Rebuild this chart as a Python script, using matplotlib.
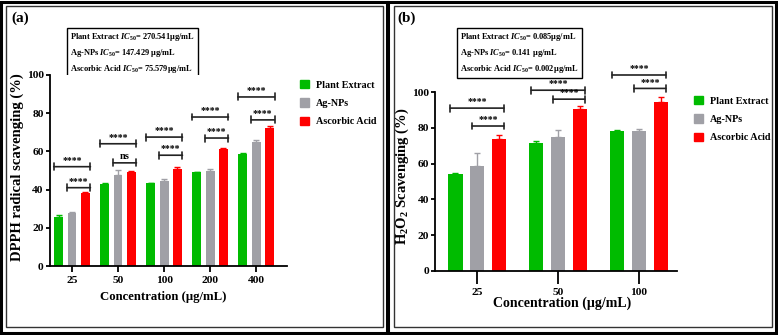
import matplotlib
matplotlib.use('Agg')
import matplotlib.pyplot as plt
from matplotlib.patches import Rectangle, Patch
import numpy as np

plt.rcParams['font.family'] = ['Liberation Serif', 'DejaVu Serif']
plt.rcParams['font.weight'] = 'bold'
plt.rcParams['mathtext.fontset'] = 'custom'
plt.rcParams['mathtext.rm'] = 'Liberation Serif:bold'
plt.rcParams['mathtext.it'] = 'Liberation Serif:bold:italic'
plt.rcParams['mathtext.bf'] = 'Liberation Serif:bold'

# ---- data ----
SERIES = ['Plant Extract', 'Ag-NPs', 'Ascorbic Acid']
COLORS = ['#00bb00', '#a0a0a6', '#ff0000']

conc_a = ['25', '50', '100', '200', '400']
dpph_plant = [25.8, 43.0, 43.2, 49.0, 58.5]
dpph_agnp = [27.6, 47.5, 44.5, 50.0, 65.0]
dpph_asc = [38.2, 49.0, 51.0, 61.0, 72.3]
dpph_plant_err = [0.8, 0.4, 0.5, 0.4, 0.8]
dpph_agnp_err = [0.7, 3.0, 1.0, 0.7, 1.2]
dpph_asc_err = [0.5, 0.6, 0.6, 0.8, 0.8]
# significance: plant vs ascorbic (big), agnp vs ascorbic (small)
dpph_sig_big = [52, 64, 67.5, 78, 88.5]
dpph_sig_small = [41, 54, 58, 67, 76.5]
dpph_lab_big = ['****'] * 5
dpph_lab_small = ['****', 'ns', '****', '****', '****']

conc_b = ['25', '50', '100']
h2o2_plant = [54.0, 71.5, 78.0]
h2o2_agnp = [58.5, 75.0, 78.0]
h2o2_asc = [74.0, 90.5, 94.5]
h2o2_plant_err = [1.0, 1.0, 1.0]
h2o2_agnp_err = [7.5, 3.5, 1.5]
h2o2_asc_err = [2.0, 1.5, 2.5]
h2o2_sig_big = [91, 101, 109.5]
h2o2_sig_small = [81, 96, 102]
h2o2_lab_big = ['****'] * 3
h2o2_lab_small = ['****'] * 3

ic50_a = ['Plant Extract $IC_{50}$= 270.541µg/mL',
          'Ag-NPs $IC_{50}$= 147.429 µg/mL',
          'Ascorbic Acid $IC_{50}$= 75.579µg/mL']
ic50_b = ['Plant Extract $IC_{50}$= 0.085µg/mL',
          'Ag-NPs $IC_{50}$= 0.141 µg/mL',
          'Ascorbic Acid $IC_{50}$= 0.002µg/mL']

W, H = 778, 335
fig = plt.figure(figsize=(W / 100, H / 100), dpi=100)

# overlay axes in pixel coordinates for frames and boxes
ov = fig.add_axes([0, 0, 1, 1], zorder=-1)
ov.set_xlim(0, W)
ov.set_ylim(H, 0)
ov.axis('off')
for x0, x1 in [(1.5, 387), (388.5, 776.5)]:
    ov.add_patch(Rectangle((x0, 1.5), x1 - x0, 331.5, fill=False, lw=2.2, ec='black'))
for x0, x1 in [(6, 383), (394, 772)]:
    ov.add_patch(Rectangle((x0, 6), x1 - x0, 321, fill=False, lw=1.0, ec='#333333'))


def px_axes(left, right, top, bottom):
    return fig.add_axes([left / W, 1 - bottom / H, (right - left) / W, (bottom - top) / H])


def draw_panel(ax, cats, vals, errs, sig_big, sig_small, lab_big, lab_small,
               off, width, step_px, ylabel, xlab_size):
    x = np.arange(len(cats))
    for i, (v, e, c) in enumerate(zip(vals, errs, COLORS)):
        xs = x + (i - 1) * off
        ax.bar(xs, v, width=width, color=c, zorder=2)
        ax.errorbar(xs, v, yerr=[np.zeros(len(v)), e], fmt='none', ecolor=c,
                    elinewidth=1, capsize=2, capthick=1, zorder=3)
    pad = 5 / step_px
    for j in range(len(cats)):
        for y, lab, start in [(sig_big[j], lab_big[j], x[j] - off - pad),
                              (sig_small[j], lab_small[j], x[j] - pad)]:
            end = x[j] + off + pad
            ax.annotate('', xy=(start, y), xytext=(end, y),
                        arrowprops=dict(arrowstyle='|-|,widthA=0.25,widthB=0.25',
                                        lw=1.2, color='#222222', shrinkA=0, shrinkB=0),
                        annotation_clip=False)
            fs = 7.5 if lab == 'ns' else 7
            ax.text((start + end) / 2, y + 1.0, lab, ha='center', va='bottom',
                    fontsize=fs, fontweight='bold', clip_on=False)
    ax.set_xticks(x)
    ax.set_xticklabels(cats)
    ax.set_ylim(0, 100)
    ax.set_yticks([0, 20, 40, 60, 80, 100])
    for s in ['top', 'right']:
        ax.spines[s].set_visible(False)
    for s in ['left', 'bottom']:
        ax.spines[s].set_linewidth(1.3)
    ax.tick_params(labelsize=8.2, width=1.3, length=3, pad=1.5)
    ax.set_xlabel('Concentration (µg/mL)', fontsize=xlab_size, fontweight='bold')
    ax.set_ylabel(ylabel, fontsize=10.5, fontweight='bold')


# ---- panel (a) ----
ax_a = px_axes(50, 287, 75, 266)
draw_panel(ax_a, conc_a, [dpph_plant, dpph_agnp, dpph_asc],
           [dpph_plant_err, dpph_agnp_err, dpph_asc_err],
           dpph_sig_big, dpph_sig_small, dpph_lab_big, dpph_lab_small,
           0.29, 0.19, 46, 'DPPH radical scavenging (%)', 9.2)
ax_a.set_xlim(-0.48, 4.67)
ax_a.tick_params(axis='x', length=4, pad=3)
ax_a.yaxis.set_label_coords(-0.11, 0.516)
ax_a.xaxis.set_label_coords(0.479, -0.13)

# ---- panel (b) ----
ax_b = px_axes(435, 677, 92, 271)
draw_panel(ax_b, conc_b, [h2o2_plant, h2o2_agnp, h2o2_asc],
           [h2o2_plant_err, h2o2_agnp_err, h2o2_asc_err],
           h2o2_sig_big, h2o2_sig_small, h2o2_lab_big, h2o2_lab_small,
           0.27, 0.18, 81, 'H$_2$O$_2$ Scavenging (%)', 10)
ax_b.set_xlim(-0.52, 2.47)
ax_b.tick_params(axis='x', length=9, pad=3)
ax_b.yaxis.set_label_coords(-0.099, 0.528)
ax_b.xaxis.set_label_coords(0.525, -0.145)

# panel labels
ov.text(11, 18, '(a)', fontsize=11, fontweight='bold', va='center', ha='left')
ov.text(397, 18, '(b)', fontsize=11, fontweight='bold', va='center', ha='left')

# IC50 boxes
for x0, lines in [(70, ic50_a), (460, ic50_b)]:
    ov.text(x0, 53, '\n'.join(lines), fontsize=6.0, va='center', ha='left',
            linespacing=1.45,
            bbox=dict(boxstyle='square,pad=0.4', fc='white', ec='black', lw=1))

# legends
handles = [Patch(color=c, label=s) for c, s in zip(COLORS, SERIES)]
for x0, y0 in [(300, 80), (694, 96)]:
    fig.legend(handles=handles, loc='upper left',
               bbox_to_anchor=(x0 / W, 1 - y0 / H), frameon=False,
               prop={'family': 'Liberation Serif', 'weight': 'bold', 'size': 7.3},
               handlelength=0.9, handleheight=0.9, handletextpad=0.7,
               labelspacing=0.85, borderpad=0, borderaxespad=0)

fig.savefig('out.png', dpi=100)
